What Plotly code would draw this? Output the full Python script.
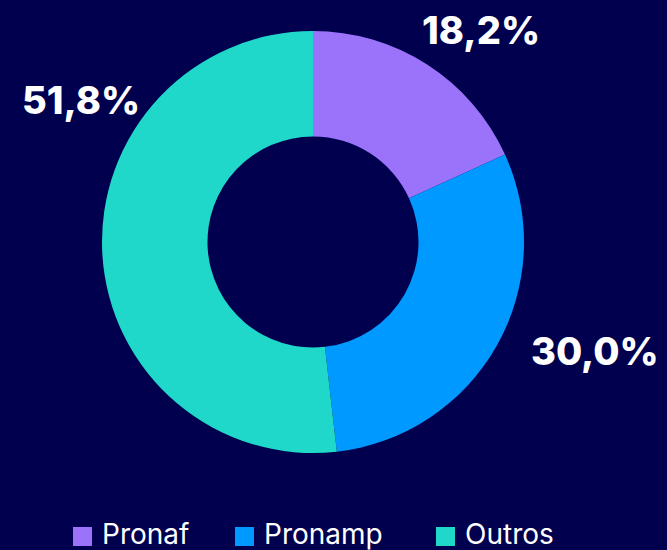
import plotly.graph_objects as go

categories = ["Pronaf", "Pronamp", "Outros"]
values = [18.2, 30.0, 51.8]
colors = ["#9b72fa", "#0099ff", "#1fd8c9"]
labels_text = [f"{v:.1f}%".replace(".", ",") for v in values]

bg = "#00004f"
W, H = 667, 550
cx, cy, R = 313, 242, 211

# label anchor positions (pixels) for each slice label
label_pos = [(481, 30), (595, 351), (81, 100)]
# legend swatch x positions (pixels)
legend_x = [73, 235, 436]

fig = go.Figure(go.Pie(
    labels=categories,
    values=values,
    textinfo="none",
    hole=0.5,
    sort=False,
    direction="clockwise",
    rotation=0,
    marker=dict(colors=colors, line=dict(width=0)),
    domain=dict(x=[(cx - R) / W, (cx + R) / W], y=[1 - (cy + R) / H, 1 - (cy - R) / H]),
    showlegend=False,
))

for txt, (px, py) in zip(labels_text, label_pos):
    fig.add_annotation(
        text=txt, x=px / W, y=1 - py / H, xref="paper", yref="paper",
        xanchor="center", yanchor="middle", showarrow=False,
        font=dict(family="Inter, Lato, sans-serif", size=38, color="white", weight=800),
    )

for cat, col, lx in zip(categories, colors, legend_x):
    fig.add_shape(
        type="rect", xref="paper", yref="paper",
        x0=lx / W, x1=(lx + 19) / W, y0=1 - 546 / H, y1=1 - 527 / H,
        fillcolor=col, line=dict(width=0),
    )
    fig.add_annotation(
        text=cat, x=(lx + 27) / W, y=1 - 534 / H, xref="paper", yref="paper",
        xanchor="left", yanchor="middle", showarrow=False,
        font=dict(family="Inter, Lato, sans-serif", size=28, color="white"),
    )

fig.update_layout(
    width=W, height=H,
    margin=dict(l=0, r=0, t=0, b=0),
    paper_bgcolor=bg, plot_bgcolor=bg,
)

fig.write_html("out.html", config={"displayModeBar": False},
               post_script="document.body.style.margin='0';document.body.style.background='%s';" % bg)
